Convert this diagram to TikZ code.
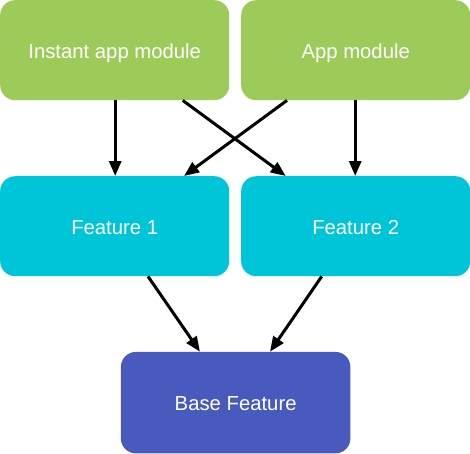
\documentclass[tikz,border=0pt]{standalone}
\usepackage{fontspec}
\setmainfont{Liberation Sans}
\usetikzlibrary{arrows.meta}
\definecolor{mgreen}{HTML}{9CCB5A}
\definecolor{mcyan}{HTML}{00C4D8}
\definecolor{mindigo}{HTML}{485ABD}
\tikzset{
  box/.style={rounded corners=15pt, draw=none, text=white, font=\fontsize{20.3}{24}\selectfont, minimum width=229pt, minimum height=100pt, inner sep=0pt, text height=16pt, text depth=0pt, anchor=north west},
  conn/.style={line width=3pt, -{Triangle[length=15pt,width=12pt]}}
}
\begin{document}
\begin{tikzpicture}[x=1pt,y=-1pt]
\useasboundingbox (0,0) rectangle (470,453);
\node[box, fill=mgreen] (inst) at (0,0) {Instant app module};
\node[box, fill=mgreen] (app) at (241,0) {App module};
\node[box, fill=mcyan] (f1) at (0,176) {Feature 1};
\node[box, fill=mcyan] (f2) at (241,176) {Feature 2};
\node[box, fill=mindigo, minimum width=229.5pt, minimum height=101.5pt] (base) at (120.7,351.7) {Base Feature};
\draw[conn] ([xshift=115.2pt]inst.south west) -- ([xshift=115.2pt]f1.north west);
\draw[conn] ([xshift=182.7pt]inst.south west) -- ([xshift=44.7pt]f2.north west);
\draw[conn] ([xshift=46pt]app.south west) -- ([xshift=184pt]f1.north west);
\draw[conn] ([xshift=114.2pt]app.south west) -- ([xshift=114.2pt]f2.north west);
\draw[conn] ([xshift=148pt]f1.south west) -- ([xshift=79.3pt]base.north west);
\draw[conn] ([xshift=80.7pt]f2.south west) -- ([xshift=149.3pt]base.north west);
\end{tikzpicture}
\end{document}
